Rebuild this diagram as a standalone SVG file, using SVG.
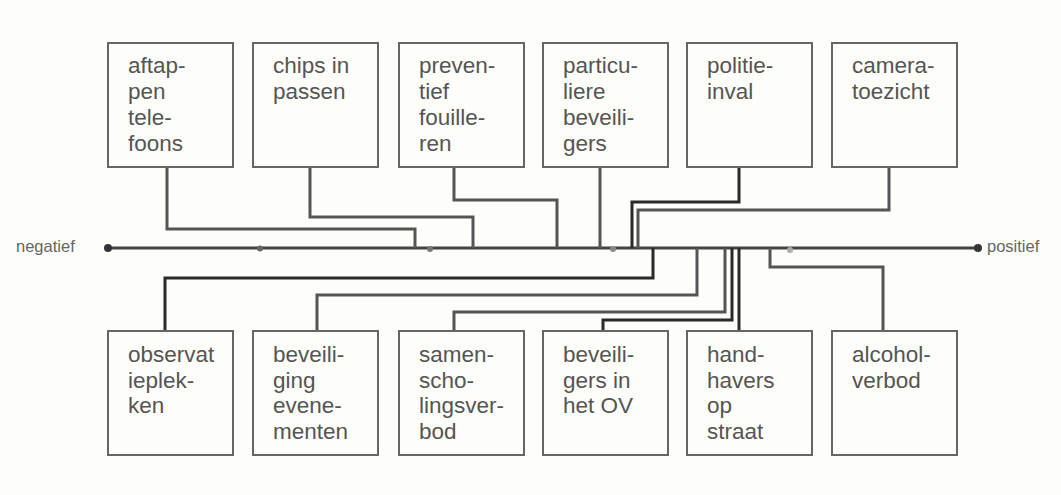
<svg xmlns="http://www.w3.org/2000/svg" width="1061" height="495" viewBox="0 0 1061 495">
<style>
.bg{fill:#fdfdfa}
.box{fill:#fdfdfa;stroke:#666;stroke-width:2}
.lbl{font-family:"Liberation Sans",Arial,sans-serif;font-size:22.5px;fill:#555}
.ax{font-family:"Liberation Sans",Arial,sans-serif;font-size:16.5px;fill:#666}
.c{fill:none;stroke:#555;stroke-width:3}
.d{fill:none;stroke:#2a2a2a;stroke-width:3}
</style>
<rect class="bg" x="0" y="0" width="1061" height="495"/>
<g id="axis">
<line x1="108" y1="248" x2="978" y2="248" stroke="#444" stroke-width="3"/>
<circle cx="108" cy="248" r="4" fill="#333"/>
<circle cx="978" cy="248" r="4" fill="#333"/>
<circle cx="260" cy="248.5" r="3" fill="#666"/>
<circle cx="430" cy="249" r="3" fill="#777"/>
<circle cx="613" cy="249" r="3" fill="#888"/>
<circle cx="790" cy="250" r="3" fill="#aaa"/>
<text class="ax" x="16" y="252">negatief</text>
<text class="ax" x="987" y="252">positief</text>
</g>
<g id="connectors">
<polyline class="c" points="167,167 167,229 415,229 415,248"/>
<polyline class="c" points="310,167 310,217 473,217 473,248"/>
<polyline class="c" points="454,167 454,200 557,200 557,248"/>
<polyline class="c" points="600,167 600,248"/>
<polyline class="d" points="739,167 739,202 632,202 632,248"/>
<polyline class="c" points="889,167 889,210 638,210 638,248"/>
<polyline class="d" points="165,331 165,278 653,278 653,248"/>
<polyline class="c" points="317,331 317,295 697,295 697,248"/>
<polyline class="c" points="454,331 454,312 725,312 725,248"/>
<polyline class="d" points="603,331 603,320 732,320 732,248"/>
<polyline class="d" points="739,331 739,248"/>
<polyline class="c" points="883,331 883,267 770,267 770,248"/>
</g>
<g id="n-aftappen"><rect class="box" x="108" y="43" width="125" height="124"/><text class="lbl"><tspan x="128" y="73">aftap-</tspan><tspan x="128" y="99">pen</tspan><tspan x="128" y="125">tele-</tspan><tspan x="128" y="151">foons</tspan></text></g>
<g id="n-chips"><rect class="box" x="253" y="43" width="125" height="124"/><text class="lbl"><tspan x="273" y="73">chips in</tspan><tspan x="273" y="99">passen</tspan></text></g>
<g id="n-preventief"><rect class="box" x="399" y="43" width="125" height="124"/><text class="lbl"><tspan x="419" y="73">preven-</tspan><tspan x="419" y="99">tief</tspan><tspan x="419" y="125">fouille-</tspan><tspan x="419" y="151">ren</tspan></text></g>
<g id="n-particuliere"><rect class="box" x="543" y="43" width="125" height="124"/><text class="lbl"><tspan x="563" y="73">particu-</tspan><tspan x="563" y="99">liere</tspan><tspan x="563" y="125">beveili-</tspan><tspan x="563" y="151">gers</tspan></text></g>
<g id="n-politie"><rect class="box" x="687" y="43" width="125" height="124"/><text class="lbl"><tspan x="707" y="73">politie-</tspan><tspan x="707" y="99">inval</tspan></text></g>
<g id="n-camera"><rect class="box" x="832" y="43" width="125" height="124"/><text class="lbl"><tspan x="852" y="73">camera-</tspan><tspan x="852" y="99">toezicht</tspan></text></g>
<g id="n-observatieplekken"><rect class="box" x="108" y="331" width="125" height="124"/><text class="lbl"><tspan x="128" y="362">observat</tspan><tspan x="128" y="388">ieplek-</tspan><tspan x="128" y="413">ken</tspan></text></g>
<g id="n-beveiliging"><rect class="box" x="253" y="331" width="125" height="124"/><text class="lbl"><tspan x="273" y="362">beveili-</tspan><tspan x="273" y="388">ging</tspan><tspan x="273" y="413">evene-</tspan><tspan x="273" y="439">menten</tspan></text></g>
<g id="n-samenscholing"><rect class="box" x="399" y="331" width="125" height="124"/><text class="lbl"><tspan x="419" y="362">samen-</tspan><tspan x="419" y="388">scho-</tspan><tspan x="419" y="413">lingsver-</tspan><tspan x="419" y="439">bod</tspan></text></g>
<g id="n-beveiligers-ov"><rect class="box" x="543" y="331" width="125" height="124"/><text class="lbl"><tspan x="563" y="362">beveili-</tspan><tspan x="563" y="388">gers in</tspan><tspan x="563" y="413">het OV</tspan></text></g>
<g id="n-handhavers"><rect class="box" x="687" y="331" width="125" height="124"/><text class="lbl"><tspan x="707" y="362">hand-</tspan><tspan x="707" y="388">havers</tspan><tspan x="707" y="413">op</tspan><tspan x="707" y="439">straat</tspan></text></g>
<g id="n-alcoholverbod"><rect class="box" x="832" y="331" width="125" height="124"/><text class="lbl"><tspan x="852" y="362">alcohol-</tspan><tspan x="852" y="388">verbod</tspan></text></g>
</svg>
